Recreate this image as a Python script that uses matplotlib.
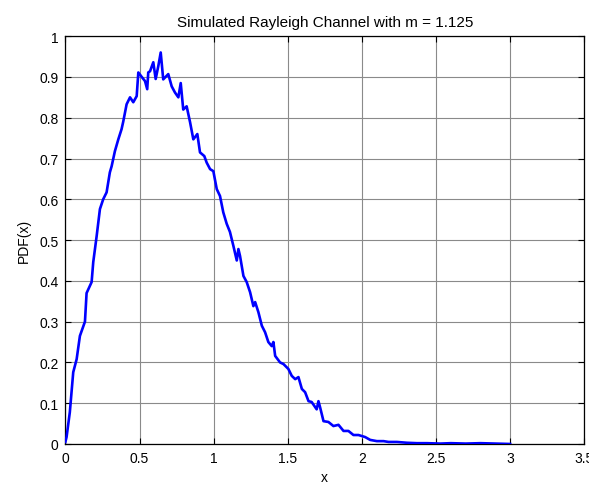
import matplotlib
matplotlib.use("Agg")
import matplotlib.pyplot as plt

plt.rcParams['font.family'] = ['Liberation Sans', 'DejaVu Sans']

# Data
x_vals = [0.0, 0.008, 0.030, 0.053, 0.076, 0.098, 0.132, 0.143, 0.177, 0.188,
          0.211, 0.233, 0.255, 0.278, 0.300, 0.312, 0.334, 0.357, 0.379, 0.390,
          0.413, 0.436, 0.458, 0.481, 0.492, 0.515, 0.537, 0.552, 0.559, 0.571,
          0.593, 0.609, 0.627, 0.643, 0.660, 0.694, 0.717, 0.739, 0.762, 0.778,
          0.795, 0.818, 0.841, 0.863, 0.890, 0.908, 0.937, 0.953, 0.976, 0.998,
          1.021, 1.043, 1.065, 1.088, 1.110, 1.133, 1.156, 1.167, 1.178, 1.201,
          1.223, 1.246, 1.268, 1.280, 1.302, 1.325, 1.347, 1.369, 1.392, 1.403,
          1.415, 1.448, 1.471, 1.504, 1.527, 1.550, 1.572, 1.595, 1.617, 1.640,
          1.661, 1.695, 1.707, 1.718, 1.741, 1.774, 1.808, 1.842, 1.876, 1.909,
          1.943, 1.977, 2.022, 2.056, 2.101, 2.146, 2.180, 2.236, 2.304, 2.371,
          2.439, 2.529, 2.600, 2.700, 2.800, 2.900, 3.000]
pdf_vals = [0.005, 0.017, 0.078, 0.176, 0.208, 0.265, 0.300, 0.370, 0.397, 0.446,
            0.510, 0.576, 0.600, 0.617, 0.666, 0.681, 0.718, 0.747, 0.772, 0.790,
            0.833, 0.850, 0.838, 0.853, 0.911, 0.900, 0.890, 0.870, 0.911, 0.914,
            0.936, 0.895, 0.927, 0.960, 0.894, 0.907, 0.877, 0.862, 0.850, 0.885,
            0.820, 0.828, 0.789, 0.747, 0.760, 0.715, 0.706, 0.690, 0.674, 0.669,
            0.625, 0.608, 0.568, 0.540, 0.520, 0.486, 0.450, 0.478, 0.461, 0.412,
            0.397, 0.372, 0.338, 0.348, 0.323, 0.290, 0.274, 0.250, 0.240, 0.250,
            0.216, 0.200, 0.196, 0.184, 0.167, 0.159, 0.164, 0.135, 0.127, 0.105,
            0.103, 0.085, 0.105, 0.090, 0.056, 0.054, 0.044, 0.047, 0.032, 0.032,
            0.022, 0.022, 0.017, 0.010, 0.007, 0.007, 0.005, 0.005, 0.003, 0.002,
            0.002, 0.001, 0.002, 0.001, 0.002, 0.001, 0.000]

x_ticks = [0, 0.5, 1, 1.5, 2, 2.5, 3, 3.5]
x_tick_labels = ['0', '0.5', '1', '1.5', '2', '2.5', '3', '3.5']
y_ticks = [0, 0.1, 0.2, 0.3, 0.4, 0.5, 0.6, 0.7, 0.8, 0.9, 1]
y_tick_labels = ['0', '0.1', '0.2', '0.3', '0.4', '0.5', '0.6', '0.7', '0.8', '0.9', '1']

fig = plt.figure(figsize=(5.89, 4.89), dpi=100)
ax = fig.add_axes([0.111, 0.09, 0.881, 0.834])

ax.plot(x_vals, pdf_vals, color='#0000ff', linewidth=1.9, zorder=3)

ax.set_xlim(0, 3.5)
ax.set_ylim(0, 1)
ax.set_xticks(x_ticks)
ax.set_xticklabels(x_tick_labels)
ax.set_yticks(y_ticks)
ax.set_yticklabels(y_tick_labels)

ax.grid(True, color='#8a8a8a', linewidth=0.8, linestyle='-')
ax.set_axisbelow(True)
ax.tick_params(direction='in', length=4, width=0.8, top=True, right=True,
               labelsize=10, pad=5, colors='black')
for sp in ax.spines.values():
    sp.set_linewidth(0.9)
    sp.set_color('black')

ax.set_title('Simulated Rayleigh Channel with m = 1.125', fontsize=11, pad=7)
ax.set_xlabel('x', fontsize=10, labelpad=4)
ax.set_ylabel('PDF(x)', fontsize=10, labelpad=6)

fig.savefig('out.png', dpi=100)
